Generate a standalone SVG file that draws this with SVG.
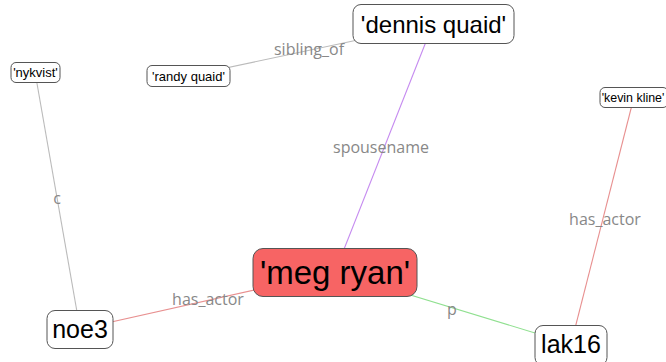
<svg xmlns="http://www.w3.org/2000/svg" width="666" height="362" viewBox="0 0 666 362">
<style>
.e{fill:none;stroke-width:1.1}
.el{font-family:"Open Sans",sans-serif;font-size:16px;fill:#888;text-anchor:middle}
.n rect{fill:#fff;stroke:#555;stroke-width:1}
.n text{font-family:"Liberation Sans",Arial,sans-serif;fill:#000;text-anchor:middle}
</style>
<rect width="666" height="362" fill="#fff"/>
<g id="connectors">
<line class="e" x1="188" y1="76" x2="433" y2="24" stroke="#bbbbbb"/>
<line class="e" x1="433" y1="24" x2="335" y2="272" stroke="#c58af0"/>
<line class="e" x1="35" y1="72" x2="80" y2="329" stroke="#bbbbbb"/>
<line class="e" x1="634" y1="97" x2="571" y2="344" stroke="#e89090"/>
<line class="e" x1="335" y1="272" x2="80" y2="329" stroke="#e89090"/>
<line class="e" x1="335" y1="272" x2="571" y2="344" stroke="#90e090"/>
<text class="el" x="309" y="55">sibling_of</text>
<text class="el" x="381" y="153">spousename</text>
<text class="el" x="57" y="204">c</text>
<text class="el" x="605" y="225">has_actor</text>
<text class="el" x="208" y="305">has_actor</text>
<text class="el" x="452" y="315">p</text>
</g>
<g id="meg_ryan" class="n">
<rect x="253" y="248.5" width="164" height="48" rx="10" style="fill:#f76464"/>
<text x="335" y="284" font-size="33">'meg ryan'</text>
</g>
<g id="dennis_quaid" class="n">
<rect x="353" y="4.5" width="161" height="39" rx="8"/>
<text x="433.5" y="33" font-size="24">'dennis quaid'</text>
</g>
<g id="randy_quaid" class="n">
<rect x="147" y="65.5" width="83" height="21" rx="5"/>
<text x="188.5" y="81" font-size="13">'randy quaid'</text>
</g>
<g id="nykvist" class="n">
<rect x="11" y="62.5" width="49" height="20" rx="5"/>
<text x="35.5" y="77" font-size="13">'nykvist'</text>
</g>
<g id="kevin_kline" class="n">
<rect x="600" y="87.5" width="68" height="20" rx="5"/>
<text x="633" y="102" font-size="12.4">'kevin kline'</text>
</g>
<g id="noe3" class="n">
<rect x="47" y="310.5" width="66" height="38" rx="8"/>
<text x="80" y="338" font-size="25">noe3</text>
</g>
<g id="lak16" class="n">
<rect x="535" y="325.5" width="72" height="40" rx="8"/>
<text x="571" y="353" font-size="25">lak16</text>
</g>
</svg>
